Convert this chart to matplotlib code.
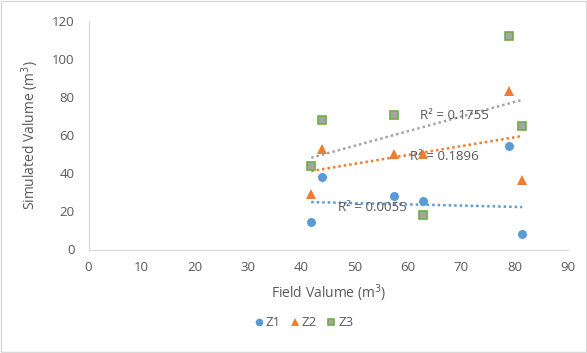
import matplotlib.pyplot as plt
from matplotlib.patches import Rectangle

plt.rcParams['font.family'] = ['Open Sans', 'DejaVu Sans']

# field volume (shared by all zones)
field = [41.8, 43.9, 57.3, 62.8, 78.9, 81.4]

# simulated volume per zone
z1 = [14.7, 37.9, 27.9, 25.3, 54.2, 8.4]
z2 = [28.9, 52.6, 50.0, 50.0, 83.3, 36.5]
z3 = [43.9, 68.0, 70.5, 17.9, 112.0, 64.9]

# linear trendlines (value at first and last field volume)
trend_x = [41.8, 81.4]
trend_z1 = [24.9, 22.3]
trend_z2 = [41.2, 59.6]
trend_z3 = [48.2, 78.6]

r2_labels = ['R² = 0.0055', 'R² = 0.1896', 'R² = 0.1755']
r2_pos = [(53.3, 22.3), (66.8, 49.1), (68.6, 70.5)]

blue = '#5B9BD5'
orange = '#ED7D31'
gray = '#A5A5A5'
green = '#70AD47'
txt = '#595959'

fig = plt.figure(figsize=(5.87, 3.53), dpi=100)
ax = fig.add_axes([88.5 / 587, 1 - 249.5 / 353, (568 - 88.5) / 587, (249.5 - 21) / 353])

ax.plot(trend_x, trend_z1, color=blue, linestyle=(0, (1, 1.2)), linewidth=1.8, zorder=1)
ax.plot(trend_x, trend_z2, color=orange, linestyle=(0, (1, 1.2)), linewidth=1.8, zorder=1)
ax.plot(trend_x, trend_z3, color=gray, linestyle=(0, (1, 1.2)), linewidth=1.8, zorder=1)

ax.plot(field, z1, 'o', color=blue, markersize=6.5, markeredgewidth=0, label='Z1', zorder=3)
ax.plot(field, z2, '^', color=orange, markersize=7.5, markeredgewidth=0, label='Z2', zorder=3)
ax.plot(field, z3, 's', markerfacecolor=gray, markeredgecolor=green, markersize=5.8,
        markeredgewidth=1.2, label='Z3', zorder=3)

for s, (x, y) in zip(r2_labels, r2_pos):
    ax.text(x, y, s, color=txt, fontsize=9.5, ha='center', va='center', zorder=2)

ax.set_xlim(0, 90)
ax.set_ylim(0, 120)
ax.set_xticks(range(0, 91, 10))
ax.set_yticks(range(0, 121, 20))
for side in ['top', 'right']:
    ax.spines[side].set_visible(False)
for side in ['left', 'bottom']:
    ax.spines[side].set_color('#D9D9D9')
ax.tick_params(length=0, colors=txt, labelsize=9.5, pad=8)
ax.tick_params(axis='y', pad=10)

ax.set_xlabel('Field Valume (m$^3$)', color=txt, fontsize=10, labelpad=6)
ax.set_ylabel('Simulated Valume (m$^3$)', color=txt, fontsize=10, labelpad=8)

ax.legend(loc='center', bbox_to_anchor=(304 / 587, 1 - 323 / 353), bbox_transform=fig.transFigure,
          ncol=3, frameon=False, fontsize=9.5, labelcolor=txt, handlelength=0.6,
          handletextpad=0.2, columnspacing=0.8, markerscale=0.85)

fig.patches.append(Rectangle((0.002, 0.003), 0.996, 0.994, transform=fig.transFigure,
                             fill=False, edgecolor='#D9D9D9', linewidth=1))

fig.savefig('out.png', dpi=100)
